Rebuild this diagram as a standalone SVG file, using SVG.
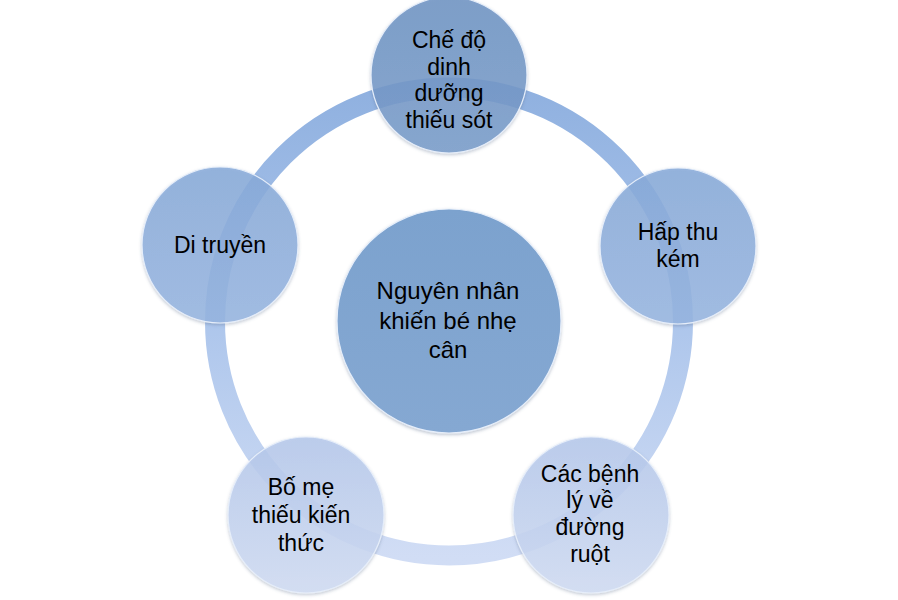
<svg xmlns="http://www.w3.org/2000/svg" width="898" height="600" viewBox="0 0 898 600">
<defs>
<linearGradient id="ringGrad" x1="0" y1="0" x2="0" y2="1">
<stop offset="0" stop-color="#86aadd"/>
<stop offset="0.5" stop-color="#a6c1ea"/>
<stop offset="1" stop-color="#cddaf4"/>
</linearGradient>
<linearGradient id="gTop" x1="0" y1="0" x2="0" y2="1">
<stop offset="0" stop-color="#6f94c4"/>
<stop offset="1" stop-color="#7a9dcb"/>
</linearGradient>
<linearGradient id="gCenter" x1="0" y1="0" x2="0" y2="1">
<stop offset="0" stop-color="#7ca2ce"/>
<stop offset="1" stop-color="#85a8d2"/>
</linearGradient>
<linearGradient id="gMid" x1="0" y1="0" x2="0" y2="1">
<stop offset="0" stop-color="#89abda"/>
<stop offset="1" stop-color="#98b6e1"/>
</linearGradient>
<linearGradient id="gLow" x1="0" y1="0" x2="0" y2="1">
<stop offset="0" stop-color="#b6c9ec"/>
<stop offset="1" stop-color="#d2ddf4"/>
</linearGradient>
<filter id="shadow" x="-20%" y="-20%" width="140%" height="140%">
<feDropShadow dx="0" dy="1.5" stdDeviation="1.5" flood-color="#4a5f80" flood-opacity="0.35"/>
</filter>
</defs>
<style>
.node { stroke: #e6eefa; stroke-width: 1.2; filter: url(#shadow); }
.outer { fill-opacity: 0.85; }
.label { font-family: "Liberation Sans", Arial, sans-serif; font-size: 23px; fill: #000; text-anchor: middle; }
.clabel { font-family: "Liberation Sans", Arial, sans-serif; font-size: 24px; fill: #000; text-anchor: middle; }
</style>
<g id="connectors">
<circle cx="449" cy="321.5" r="234" fill="none" stroke="url(#ringGrad)" stroke-width="20" stroke-opacity="0.92"/>
</g>
<g id="center">
<circle class="node" cx="449" cy="321" r="112" fill="url(#gCenter)"/>
<text class="clabel" x="448" y="299">Nguyên nhân</text>
<text class="clabel" x="448" y="329">khiến bé nhẹ</text>
<text class="clabel" x="448" y="358">cân</text>
</g>
<g id="node-top">
<circle class="node outer" cx="449" cy="75" r="78" fill="url(#gTop)"/>
<text class="label" x="449" y="48">Chế độ</text>
<text class="label" x="449" y="75">dinh</text>
<text class="label" x="449" y="101">dưỡng</text>
<text class="label" x="449" y="128">thiếu sót</text>
</g>
<g id="node-right">
<circle class="node outer" cx="678" cy="246" r="78" fill="url(#gMid)"/>
<text class="label" x="678" y="240">Hấp thu</text>
<text class="label" x="678" y="267">kém</text>
</g>
<g id="node-bottom-right">
<circle class="node outer" cx="591" cy="515" r="78" fill="url(#gLow)"/>
<text class="label" x="590" y="482">Các bệnh</text>
<text class="label" x="590" y="508">lý về</text>
<text class="label" x="590" y="535">đường</text>
<text class="label" x="590" y="562">ruột</text>
</g>
<g id="node-bottom-left">
<circle class="node outer" cx="306" cy="515" r="78" fill="url(#gLow)"/>
<text class="label" x="301" y="495">Bố mẹ</text>
<text class="label" x="301" y="523">thiếu kiến</text>
<text class="label" x="301" y="551">thức</text>
</g>
<g id="node-left">
<circle class="node outer" cx="220" cy="245" r="78" fill="url(#gMid)"/>
<text class="label" x="220" y="253">Di truyền</text>
</g>
</svg>
